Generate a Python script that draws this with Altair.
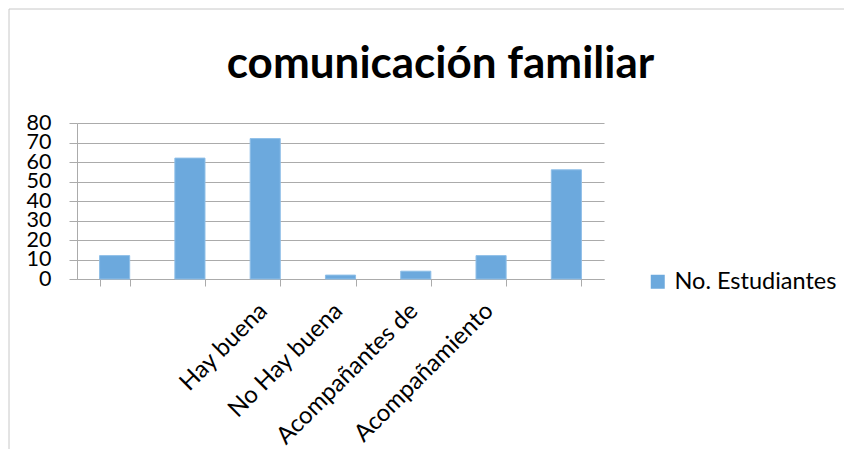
import altair as alt
import pandas as pd

categories = [" ", "  ", "Hay buena", "No Hay buena", "Acompañantes de", "Acompañamiento", "   "]
values = [12, 62, 72, 2, 4, 12, 56]
series_name = "No. Estudiantes"
y_ticks = [0, 10, 20, 30, 40, 50, 60, 70, 80]

df = pd.DataFrame({"cat": categories, "val": values, "serie": [series_name] * len(categories)})

FONT = "Lato"
GRID = "#ABABAB"

bars = alt.Chart(df).mark_bar(color="#6CA9DD", stroke="#8FBFE8", strokeWidth=1).encode(
    x=alt.X("cat:N", sort=None, title=None,
            scale=alt.Scale(paddingInner=0.6, paddingOuter=0.3),
            axis=alt.Axis(labelAngle=-45, labelAlign="right", labelBaseline="middle",
                          labelFont=FONT, labelFontSize=24, labelColor="#000000",
                          labelPadding=21, labelOffset=-2, labelLimit=0, tickBand="extent", tickSize=7,
                          tickColor=GRID, domainColor=GRID, grid=False, labelOverlap=False)),
    y=alt.Y("val:Q", title=None,
            scale=alt.Scale(domain=[0, 80], nice=False),
            axis=alt.Axis(values=y_ticks, labelFont=FONT, labelFontSize=21.5, labelColor="#000000",
                          labelPadding=18, tickSize=8, tickColor=GRID, domainColor=GRID,
                          gridColor=GRID, grid=True, labelOverlap=False, labelFlush=False)),
    color=alt.Color("serie:N", title=None,
                    scale=alt.Scale(range=["#6CA9DD"]),
                    legend=alt.Legend(orient="none", legendX=569, legendY=147,
                                      symbolType="square", symbolSize=196, symbolStrokeWidth=0,
                                      labelFont=FONT, labelFontSize=23.5, labelColor="#000000",
                                      labelOffset=5, labelLimit=0, padding=0)),
)

frame = alt.Chart(pd.DataFrame({"f": [0]})).mark_rect(fill=None, stroke="#C8C8C8", strokeWidth=1).encode(
    x=alt.value(-68), x2=alt.value(900), y=alt.value(-114), y2=alt.value(500)
)

chart = alt.layer(frame, bars).properties(
    width=527, height=156,
    padding={"left": 69, "top": 115, "right": 240, "bottom": 170},
    autosize=alt.AutoSizeParams(type="none"),
    title=alt.TitleParams("comunicación familiar", font=FONT, fontSize=44, fontWeight="bold",
                          color="#000000", anchor="middle", dx=100, offset=0, dy=78),
).configure_view(stroke=None)

chart.save("out.html", embed_options={"renderer": "svg", "actions": False})
